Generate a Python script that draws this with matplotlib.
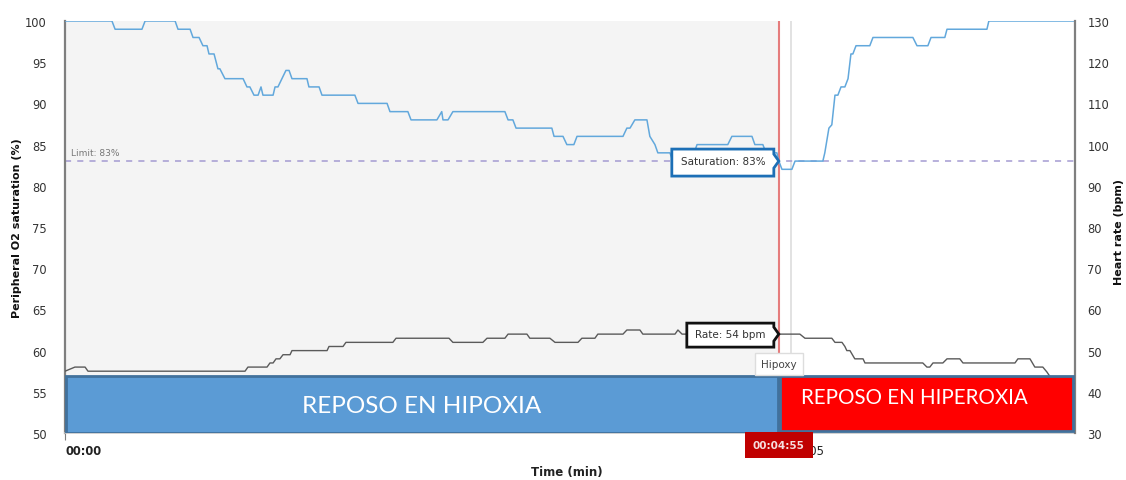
import matplotlib
matplotlib.use('Agg')
import matplotlib.pyplot as plt
import matplotlib.transforms as mtransforms
from matplotlib.patches import Rectangle, Polygon

# ---------------- data (time in seconds) ----------------
sat_t = [0, 19.4, 20.7, 31.8, 33.1, 45.5, 46.7, 51.7, 52.9, 55.4, 57.0, 58.7, 59.5, 61.6,
         63.2, 64.0, 66.1, 73.6, 75.2, 76.4, 78.1, 79.8, 81.0, 81.8, 86.0, 86.8, 88.0,
         91.3, 92.6, 93.8, 100.0, 100.8, 105.0, 106.2, 119.8, 121.1, 133.1, 134.3, 141.7,
         143.0, 153.7, 155.7, 156.2, 158.3, 160.3, 181.8, 183.1, 185.1, 186.4, 201.2,
         202.1, 205.8, 207.4, 210.3, 211.6, 230.6, 232.2, 233.5, 235.5, 240.5, 241.7,
         243.8, 245.0, 250.0, 251.2, 257.0, 258.3, 260.0, 261.2, 273.9, 275.6, 283.9,
         285.1, 288.4, 289.7, 294.2, 295.0, 296.3, 300.4, 301.7, 313.2, 314.0, 315.7,
         316.9, 318.2, 319.4, 320.7, 322.3, 323.6, 324.8, 325.6, 326.9, 332.6, 333.9,
         350.4, 352.1, 356.6, 357.9, 363.6, 364.5, 381.0, 381.8, 417.4]
sat_v = [100, 100, 99, 99, 100, 100, 99, 99, 98, 98, 97, 97, 96, 96,
         94.2, 94.2, 93, 93, 92, 92, 91, 91, 92, 91, 91, 92, 92,
         94, 94, 93, 93, 92, 92, 91, 91, 90, 90, 89, 89,
         88, 88, 89, 88, 88, 89, 89, 88, 88, 87, 87,
         86, 86, 85, 85, 86, 86, 87, 87, 88, 88, 86,
         85, 84, 84, 83, 83, 84, 84, 85, 85, 86, 86,
         85, 85, 84, 84, 83, 82, 82, 83, 83, 84, 87,
         87.4, 91, 91, 92, 92, 93, 96, 96, 97, 97, 98,
         98, 97, 97, 98, 98, 99, 99, 100, 100]

hr_t = [0, 4.1, 8.3, 9.5, 74.4, 75.6, 83.5, 84.7, 86.0, 87.2, 88.8, 90.1, 93.0, 93.8,
        108.3, 109.1, 114.9, 116.1, 135.5, 136.8, 158.7, 160.3, 172.7, 174.4, 181.8,
        183.1, 190.9, 192.1, 200.4, 202.5, 212.0, 213.6, 219.0, 220.2, 230.6, 232.2,
        237.6, 238.8, 252.1, 253.3, 255.0, 303.7, 305.8, 316.9, 318.2, 321.1, 322.3,
        323.1, 324.4, 326.4, 329.8, 330.6, 354.5, 356.2, 357.4, 358.7, 362.8, 364.5,
        369.8, 371.1, 392.6, 393.8, 398.8, 400.8, 404.1, 405.8, 409.0, 417.4]
hr_v = [45, 46, 46, 45, 45, 46, 46, 47, 47, 48, 48, 49, 49, 50,
        50, 51, 51, 52, 52, 53, 53, 52, 52, 53, 53,
        54, 54, 53, 53, 52, 52, 53, 53, 54, 54, 55,
        55, 54, 54, 55, 54, 54, 53, 53, 52, 52, 51,
        50, 50, 48, 48, 47, 47, 46, 46, 47, 47, 48,
        48, 47, 47, 48, 48, 46, 46, 44.8, 42, 42]

limit_pct = 83
event_t = 295          # 00:04:55
tick_t = [0, 300]
tick_labels = ['00:00', '00:05']
left_ticks = [50, 55, 60, 65, 70, 75, 80, 85, 90, 95, 100]
right_ticks = [30, 40, 50, 60, 70, 80, 90, 100, 110, 120, 130]
phase_bounds = [0, 295, 417]
phase_labels = ['REPOSO EN HIPOXIA', 'REPOSO EN HIPEROXIA']
phase_top = 56.9
sat_at_event = 83
hr_at_event = 54

# ---------------- figure ----------------
fig = plt.figure(figsize=(11.26, 4.81), dpi=100)
ax = fig.add_axes([65/1126, 1-434/481, 1010/1126, 412/481])
ax2 = ax.twinx()
ax2.set_position(ax.get_position())

ax.set_xlim(0, 417.4)
ax.set_ylim(50, 100)
ax2.set_ylim(30, 130)

ax.set_facecolor('white')
ax.axvspan(phase_bounds[0], event_t, color='#f4f4f4', zorder=0, lw=0)

# lines
ax.plot(sat_t, sat_v, color='#62a8dc', lw=1.1, zorder=3)
ax2.plot(hr_t, hr_v, color='#5a5a5a', lw=1.0, zorder=3)

# limit line
ax.axhline(limit_pct, color='#a49bd2', lw=1.1, ls=(0, (4, 4)), zorder=2)
ax.text(2.5, limit_pct + 0.5, 'Limit: 83%', fontsize=6.5, color='#777777',
        va='bottom', ha='left')

# vertical lines
ax.axvline(tick_t[1], color='#dddddd', lw=1.2, zorder=1)
ax.axvline(event_t, color='#e57c7c', lw=1.5, zorder=2)

# spines / ticks
for s in ['top']:
    ax.spines[s].set_visible(False)
    ax2.spines[s].set_visible(False)
ax.spines['left'].set_color('#7f7f7f')
ax.spines['left'].set_linewidth(1.6)
ax.spines['bottom'].set_color('#c8c8c8')
ax.spines['bottom'].set_linewidth(1.2)
ax2.spines['right'].set_color('#7f7f7f')
ax2.spines['right'].set_linewidth(1.6)
ax2.spines['left'].set_visible(False)
ax2.spines['bottom'].set_visible(False)
ax.spines['right'].set_visible(False)

ax.set_yticks(left_ticks)
ax2.set_yticks(right_ticks)
ax.tick_params(axis='y', length=0, pad=13, labelsize=8.3, labelcolor='#333333')
ax2.tick_params(axis='y', length=0, pad=9, labelsize=8.3, labelcolor='#333333')
ax.set_xticks(tick_t)
ax.set_xticklabels(tick_labels)
ax.tick_params(axis='x', length=5, color='#7f7f7f', pad=3, labelsize=8.3,
               labelcolor='#222222')
for lab in ax.get_xticklabels():
    lab.set_horizontalalignment('left')
ax.get_xticklabels()[0].set_fontweight('bold')

# axis labels
fig.text(17/1126, 1-228/481, 'Peripheral O2 saturation (%)', rotation=90,
         ha='center', va='center', fontsize=8, fontweight='bold', color='#111111')
fig.text(1119/1126, 1-232/481, 'Heart rate (bpm)', rotation=90,
         ha='center', va='center', fontsize=8, fontweight='bold', color='#111111')
fig.text(567/1126, 1-473/481, 'Time (min)', ha='center', va='center',
         fontsize=8.5, fontweight='bold', color='#222222')

# phase boxes
box_fc = ['#5b9bd5', '#ff0000']
box_bottom = [50.0, 50.25]
box_fs = [17.5, 14.8]
box_tx = [0.5, 0.46]
box_dy = [-0.15, 0.75]
for i in range(2):
    x0, x1 = phase_bounds[i], phase_bounds[i + 1]
    r = Rectangle((x0 + 0.4, box_bottom[i]), x1 - x0 - 0.8, phase_top - box_bottom[i],
                  facecolor=box_fc[i], edgecolor='#41719c', lw=2,
                  transform=ax.transData, zorder=6)
    ax2.add_patch(r)
    tx = x0 + (x1 - x0) * box_tx[i]
    ax2.text(tx, (box_bottom[i] + phase_top) / 2 + box_dy[i],
             phase_labels[i], transform=ax.transData, ha='center', va='center',
             color='white', fontsize=box_fs[i], family='Lato', zorder=7)

# Hipoxy label
ax2.text(event_t, 58.4, 'Hipoxy', transform=ax.transData, ha='center', va='center',
         fontsize=7.5, color='#444444', zorder=8,
         bbox=dict(boxstyle='square,pad=0.6', facecolor='white', edgecolor='#dddddd', lw=1))

# tooltips
def tooltip(tx, ty, trans_data, left, bottom, top, text, ec):
    tr = mtransforms.Affine2D() + mtransforms.ScaledTranslation(tx, ty, trans_data)
    verts = [(left, bottom), (-5, bottom), (-5, -7), (0, 0), (-5, 7), (-5, top), (left, top)]
    p = Polygon(verts, closed=True, facecolor='white', edgecolor=ec, lw=2,
                transform=tr, zorder=9)
    ax2.add_patch(p)
    ax2.text((left - 5) / 2, 0, text, transform=tr, ha='center', va='center',
             fontsize=7.5, color='#333333', zorder=10)

tooltip(event_t, sat_at_event, ax.transData, -107, -15, 12, 'Saturation: 83%', '#1c6fb6')
tooltip(event_t, hr_at_event, ax2.transData, -92, -13, 11, 'Rate: 54 bpm', '#111111')

# event tick label
ax2.text(event_t, -0.029, '00:04:55',
         transform=mtransforms.blended_transform_factory(ax.transData, ax.transAxes),
         ha='center', va='center', fontsize=7.5, fontweight='bold', color='#f5dede',
         zorder=10, clip_on=False,
         bbox=dict(boxstyle='square,pad=0.8', facecolor='#c00000', edgecolor='none'))

fig.savefig('out.png', dpi=100)
